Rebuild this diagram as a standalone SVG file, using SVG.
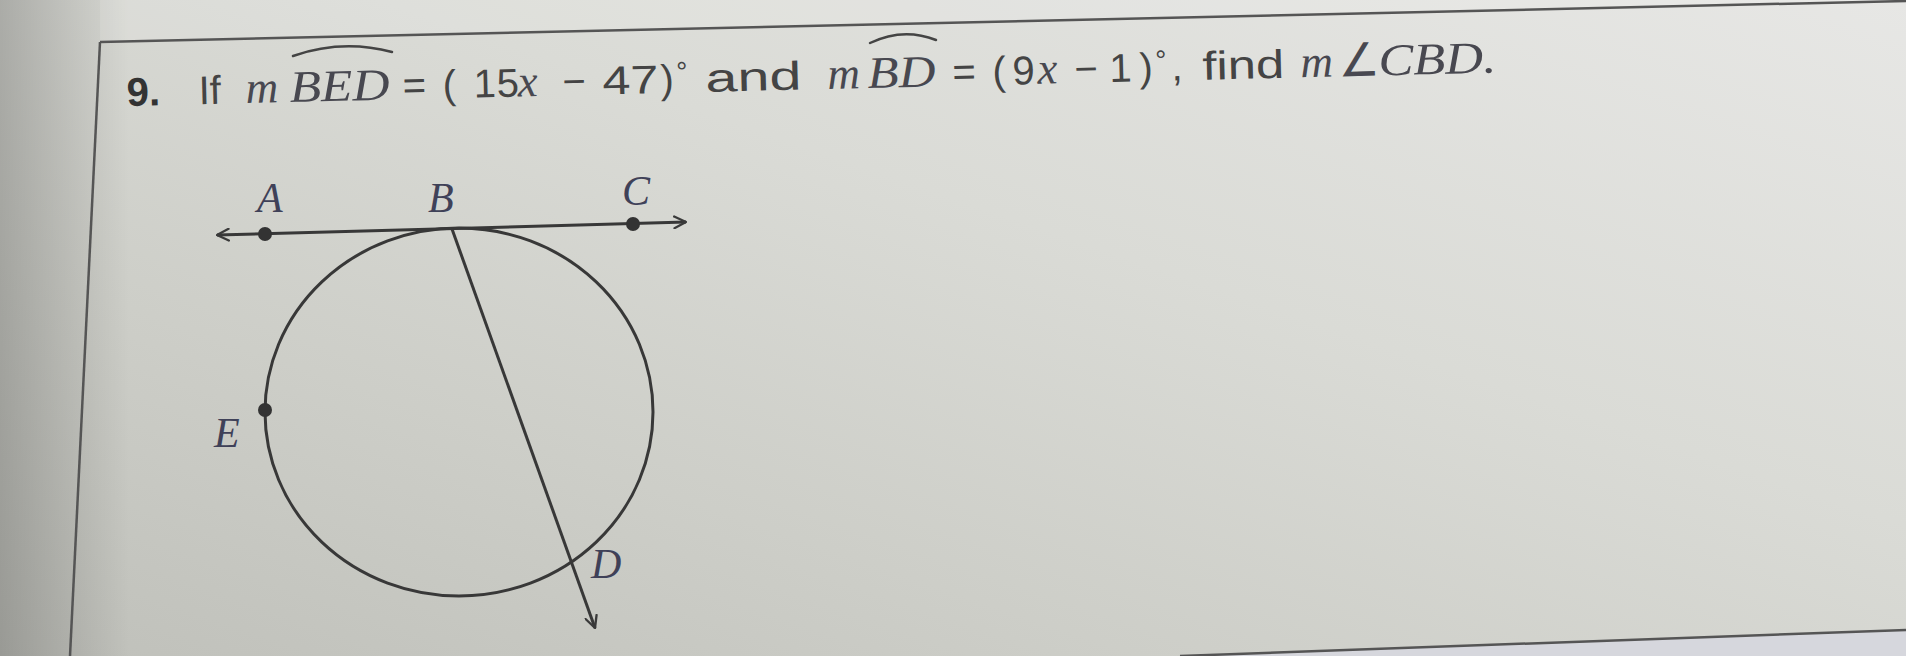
<svg xmlns="http://www.w3.org/2000/svg" width="1906" height="656" viewBox="0 0 1906 656">
  <defs>
    <linearGradient id="paper" x1="0" y1="1" x2="1" y2="0">
      <stop offset="0" stop-color="#bfc0ba"/>
      <stop offset="0.3" stop-color="#cdcec8"/>
      <stop offset="0.6" stop-color="#dadbd6"/>
      <stop offset="1" stop-color="#e7e7e5"/>
    </linearGradient>
    <linearGradient id="shadow" x1="0" y1="0" x2="1" y2="0">
      <stop offset="0" stop-color="#000" stop-opacity="0.2"/>
      <stop offset="1" stop-color="#000" stop-opacity="0"/>
    </linearGradient>
    <marker id="open" viewBox="0 0 12 12" refX="11" refY="6" markerWidth="14" markerHeight="14" markerUnits="userSpaceOnUse" orient="auto-start-reverse">
      <path d="M1,1 L11,6 L1,11" fill="none" stroke="#3a3a3a" stroke-width="2" stroke-linecap="round" stroke-linejoin="round"/>
    </marker>
    <style>
      .s { font-family: "Liberation Sans", Arial, sans-serif; font-size: 40px; fill: #444; }
      .b { font-weight: bold; fill: #333; }
      .m { font-family: "Liberation Serif", "Times New Roman", serif; font-style: italic; font-size: 45px; fill: #484850; }
      .deg { font-family: "Liberation Sans", Arial, sans-serif; font-size: 28px; fill: #444; }
      .ang { font-family: "DejaVu Sans", sans-serif; font-size: 46px; fill: #484850; }
      .lbl { font-family: "Liberation Serif", "Times New Roman", serif; font-style: italic; font-size: 42px; fill: #3f4158; }
      .frame { fill: none; stroke: #555; stroke-width: 2.5; }
      .arc { fill: none; stroke: #444; stroke-width: 2.5; stroke-linecap: round; }
      .geo { fill: none; stroke: #383838; stroke-width: 3; }
      .dot { fill: #333; }
    </style>
  </defs>

  <g id="background">
    <rect x="0" y="0" width="1906" height="656" fill="url(#paper)"/>
    <rect x="0" y="0" width="130" height="656" fill="url(#shadow)"/>
    <path d="M100,42 Q1000,20 1906,1 L1906,0 L100,0 Z" fill="#ffffff" fill-opacity="0.12"/>
    <path d="M1180,656 L1906,630 L1906,656 Z" fill="#d6d7dd"/>
  </g>

  <g id="frame">
    <path class="frame" d="M100,42 Q1000,20 1906,1"/>
    <path class="frame" d="M100,42 L70,656"/>
    <path class="frame" d="M1180,656 L1906,630"/>
  </g>

  <g id="question">
    <g transform="rotate(-1.4 128 106)">
      <text class="s b" x="127" y="106">9.</text>
      <text class="s" x="199" y="106">If</text>
      <text class="m" x="246" y="106">m</text>
      <text class="m" x="290" y="106" textLength="100" lengthAdjust="spacingAndGlyphs">BED</text>
      <text class="s" x="403" y="106">=</text>
      <text class="s" x="443" y="106">(</text>
      <text class="s" x="474" y="106">1</text>
      <text class="s" x="497" y="106">5</text>
      <text class="m" x="518" y="106">x</text>
      <text class="s" x="563" y="106">−</text>
      <text class="s" x="603" y="106" textLength="56" lengthAdjust="spacingAndGlyphs">47</text>
      <text class="s" x="661" y="106">)</text>
      <text class="deg" x="677" y="95">°</text>
      <text class="s" x="706" y="106" textLength="96" lengthAdjust="spacingAndGlyphs">and</text>
      <text class="m" x="828" y="106">m</text>
      <text class="m" x="868" y="106" textLength="68" lengthAdjust="spacingAndGlyphs">BD</text>
      <text class="s" x="953" y="106">=</text>
      <text class="s" x="993" y="106">(</text>
      <text class="s" x="1013" y="106">9</text>
      <text class="m" x="1038" y="106">x</text>
      <text class="s" x="1075" y="106">−</text>
      <text class="s" x="1110" y="106">1</text>
      <text class="s" x="1140" y="106">)</text>
      <text class="deg" x="1156" y="95">°</text>
      <text class="s" x="1172" y="106">,</text>
      <text class="s" x="1203" y="106" textLength="82" lengthAdjust="spacingAndGlyphs">find</text>
      <text class="m" x="1301" y="106">m</text>
      <text class="ang" x="1339" y="106">∠</text>
      <text class="m" x="1379" y="106" textLength="118" lengthAdjust="spacingAndGlyphs">CBD.</text>
    </g>
    <path class="arc" d="M293,56 Q342,39 392,52"/>
    <path class="arc" d="M870,43 Q903,27 936,40"/>
  </g>

  <g id="circle">
    <ellipse class="geo" cx="459" cy="412" rx="194" ry="184"/>
  </g>

  <g id="connectors">
    <line class="geo" x1="217" y1="235" x2="686" y2="222" stroke-width="3.5" marker-start="url(#open)" marker-end="url(#open)"/>
    <line class="geo" x1="452" y1="229" x2="595" y2="628" marker-end="url(#open)"/>
  </g>

  <g id="point-A">
    <circle class="dot" cx="265" cy="234" r="7"/>
    <text class="lbl" x="257" y="212">A</text>
  </g>
  <g id="point-B">
    <text class="lbl" x="428" y="212">B</text>
  </g>
  <g id="point-C">
    <circle class="dot" cx="633" cy="224" r="7"/>
    <text class="lbl" x="622" y="205">C</text>
  </g>
  <g id="point-E">
    <circle class="dot" cx="265" cy="410" r="7"/>
    <text class="lbl" x="214" y="447">E</text>
  </g>
  <g id="point-D">
    <text class="lbl" x="591" y="578">D</text>
  </g>
</svg>
